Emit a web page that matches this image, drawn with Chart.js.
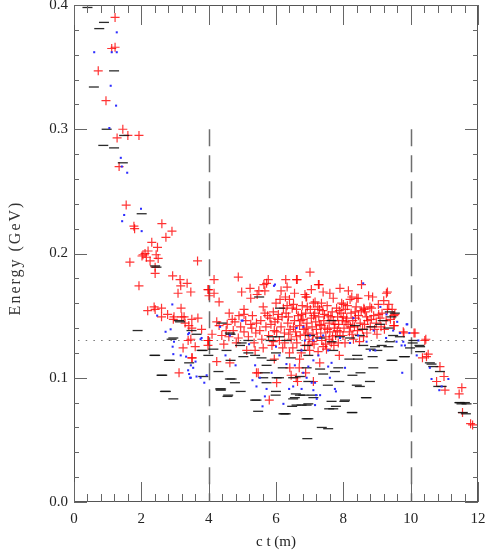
<!DOCTYPE html>
<html>
<head>
<meta charset="utf-8">
<script src="https://cdn.jsdelivr.net/npm/chart.js@4.4.1/dist/chart.umd.min.js"></script>
<style>
html,body{margin:0;padding:0;background:#fff;}
canvas{display:block;}
</style>
</head>
<body>
<canvas id="c" width="485" height="554"></canvas>
<script>
// ---- data ----
const xTickLabels = ["0","2","4","6","8","10","12"];
const yTickLabels = ["0.0","0.1","0.2","0.3","0.4"];
const xTitle = "c t (m)";
const yTitle = "Energy (GeV)";
const dashedX = [4, 10];      // vertical dashed lines
const dashedTop = 0.3;        // they start at this energy
const dottedY = 0.13;         // horizontal dotted line

const redPoints = [
[1.22,0.390],[1.12,0.365],[1.22,0.366],[0.72,0.347],[0.95,0.323],[1.45,0.300],[1.28,0.293],[1.60,0.295],[1.93,0.295],[1.34,0.270],
[1.55,0.239],[1.78,0.222],[1.80,0.220],[2.61,0.224],[2.91,0.218],[2.73,0.213],[2.31,0.209],[2.48,0.205],[2.20,0.202],[2.11,0.200],
[2.02,0.198],[2.44,0.199],[2.50,0.196],[2.26,0.194],[1.66,0.193],[3.67,0.194],[2.41,0.189],[2.41,0.184],[2.93,0.182],[3.15,0.179],
[3.17,0.174],[3.36,0.176],[1.93,0.174],[3.47,0.169],[3.09,0.168],[3.98,0.171],[2.38,0.157],[2.41,0.155],[2.19,0.154],[2.60,0.156],
[3.18,0.156],[2.78,0.151],[2.60,0.149],[2.97,0.149],[2.95,0.147],[3.20,0.149],[3.27,0.149],[3.50,0.147],[3.68,0.148],[3.30,0.144],
[3.41,0.142],[3.50,0.140],[3.79,0.139],[3.39,0.130],[3.47,0.131],[3.98,0.130],[3.98,0.126],[3.24,0.124],[3.50,0.116],[3.12,0.104],
[2.05,0.199],[2.15,0.197],
[4.16,0.179],[3.99,0.171],[4.16,0.168],[4.01,0.166],[4.31,0.161],[4.88,0.181],[4.98,0.169],[5.23,0.172],[5.25,0.164],[5.49,0.170],
[5.44,0.167],[5.67,0.170],[5.72,0.176],[5.77,0.179],[5.64,0.175],[6.33,0.173],[6.29,0.179],[6.61,0.179],[7.01,0.185],[6.12,0.163],
[5.05,0.155],[5.05,0.151],[4.61,0.152],[4.24,0.145],[4.31,0.142],[4.55,0.143],[4.78,0.145],[4.39,0.134],[4.73,0.138],[5.28,0.140],
[5.52,0.138],[5.67,0.152],[5.92,0.153],[6.07,0.151],[5.97,0.145],[6.22,0.156],[6.37,0.149],[6.52,0.159],[6.61,0.155],[6.76,0.151],
[6.91,0.165],[7.11,0.160],[3.99,0.130],[3.51,0.116],[4.24,0.113],[4.63,0.112],[4.88,0.132],[5.13,0.122],[5.38,0.122],[5.62,0.124],
[5.92,0.129],[5.47,0.104],[5.80,0.082],[6.41,0.108],[6.69,0.108],[7.11,0.097],
[6.63,0.179],[7.28,0.175],[7.90,0.172],[7.40,0.169],[6.89,0.165],[7.35,0.160],[7.70,0.164],[8.25,0.165],[8.44,0.164],[8.87,0.165],
[9.31,0.169],[9.04,0.159],[8.00,0.159],[8.61,0.156],[8.84,0.156],[9.31,0.155],[8.35,0.153],[7.26,0.175],[8.54,0.175],[9.28,0.168],
[6.86,0.167],[7.16,0.161],[7.95,0.160],[8.20,0.163],[8.40,0.164],[8.79,0.157],[8.62,0.155],[9.53,0.151],[9.09,0.148],[8.69,0.149],
[9.51,0.142],[9.80,0.136],[10.13,0.136],[10.45,0.131],[10.52,0.119],[10.35,0.116],[10.47,0.117],[10.87,0.109],[10.99,0.101],[10.77,0.097],
[11.02,0.090],[11.52,0.092],[11.44,0.087],[11.54,0.072],[11.78,0.063],[11.84,0.062],[7.88,0.118],[9.78,0.137],[9.50,0.150],[9.50,0.142],
[10.10,0.136],[10.42,0.130],
[6.05,0.147],[6.15,0.141],[6.25,0.136],[6.30,0.152],[6.35,0.144],[6.42,0.139],[6.45,0.131],[6.48,0.156],[6.55,0.146],[6.58,0.137],
[6.62,0.128],[6.66,0.150],[6.70,0.142],[6.72,0.134],[6.78,0.158],[6.80,0.147],[6.83,0.139],[6.85,0.126],[6.88,0.152],[6.92,0.144],
[6.95,0.136],[6.98,0.131],[7.02,0.155],[7.05,0.148],[7.07,0.141],[7.10,0.135],[7.13,0.127],[7.15,0.152],[7.18,0.145],[7.20,0.139],
[7.24,0.157],[7.27,0.149],[7.30,0.143],[7.33,0.136],[7.36,0.130],[7.39,0.154],[7.42,0.146],[7.45,0.140],[7.48,0.133],[7.52,0.158],
[7.55,0.150],[7.58,0.144],[7.60,0.137],[7.64,0.128],[7.67,0.153],[7.70,0.146],[7.73,0.140],[7.77,0.134],[7.80,0.156],[7.83,0.149],
[7.86,0.143],[7.90,0.137],[7.93,0.152],[7.97,0.146],[8.02,0.140],[8.06,0.155],[8.10,0.148],[8.14,0.143],[8.18,0.137],[8.23,0.152],
[8.28,0.146],[8.33,0.141],[8.38,0.157],[8.45,0.150],[8.50,0.144],[8.57,0.139],[8.65,0.153],[8.72,0.146],[8.80,0.141],[8.90,0.150],
[8.98,0.144],[9.15,0.152],[9.22,0.139],[9.40,0.147],
[4.45,0.127],[4.60,0.133],[4.82,0.128],[4.95,0.141],[5.10,0.146],[5.18,0.133],[5.30,0.150],[5.35,0.128],[5.42,0.144],[5.58,0.131],
[5.62,0.157],[5.70,0.141],[5.78,0.134],[5.82,0.148],[5.88,0.126],[5.95,0.138],[6.00,0.160],[6.10,0.130],[6.20,0.124],[6.28,0.165],
[6.40,0.120],[6.55,0.168],[6.75,0.120],[7.00,0.122],[7.25,0.121],[7.50,0.123],[7.72,0.126],[8.05,0.128],[8.30,0.131],[8.60,0.133],
[9.00,0.135],[9.20,0.162],[9.35,0.159],[6.15,0.170],[6.40,0.163],[7.05,0.171],[7.60,0.168],[8.15,0.170],[8.75,0.166],[6.70,0.115],
[7.30,0.112],[5.95,0.115],[6.60,0.100],[6.02,0.096],[6.64,0.097],[5.42,0.104],[6.45,0.102],[6.88,0.104],[3.60,0.125],[4.10,0.135],
[6.18,0.149],[6.33,0.158],[6.52,0.141],[6.61,0.133],[6.74,0.146],[6.87,0.135],[6.93,0.157],[7.08,0.129],[7.12,0.150],[7.22,0.133],
[7.29,0.155],[7.34,0.142],[7.44,0.151],[7.47,0.127],[7.53,0.139],[7.63,0.149],[7.68,0.133],[7.75,0.143],[7.82,0.138],[7.88,0.154],
[7.99,0.134],[8.08,0.145],[8.12,0.158],[8.21,0.141],[8.26,0.135],[8.36,0.148],[8.42,0.138],[8.53,0.154],[8.63,0.143],[8.70,0.136],
[8.83,0.147],[8.93,0.139],[9.05,0.151],[9.12,0.141],[9.27,0.146],[9.45,0.155],[6.02,0.137],[5.85,0.143],[5.75,0.150],[5.55,0.146],
[5.40,0.136],[5.25,0.143],[5.05,0.137],[4.90,0.150],[4.70,0.147],[4.52,0.138],[6.26,0.128],[6.50,0.124],[6.95,0.126],[7.40,0.125],
[7.85,0.128],[6.38,0.135],[6.90,0.140],[7.58,0.131],[8.00,0.149],[8.48,0.129]
];

const blackPoints = [
[0.40,0.398],[0.89,0.386],[0.75,0.381],[1.19,0.347],[0.59,0.334],[0.97,0.300],[1.49,0.295],[0.87,0.287],[1.19,0.285],[1.45,0.273],
[2.01,0.232],[2.45,0.189],[1.89,0.138],[3.12,0.146],[3.64,0.135],[2.95,0.132],[2.39,0.118],[2.82,0.114],[3.42,0.112],[2.62,0.102],
[3.84,0.101],[2.70,0.089],[2.95,0.083],[3.82,0.122],[4.36,0.090],[4.58,0.086],[4.95,0.089],[5.38,0.082],[5.47,0.073],[5.99,0.086],
[6.29,0.071],[6.48,0.077],[6.51,0.083],[6.96,0.079],[6.76,0.078],[6.96,0.067],[6.93,0.051],[7.36,0.060],[7.55,0.059],[7.70,0.075],
[8.05,0.082],[7.65,0.081],[8.27,0.072],[8.69,0.084],[8.49,0.093],[8.79,0.097],[7.09,0.086],[6.71,0.086],[7.54,0.094],[11.46,0.080],
[11.61,0.080],[11.55,0.072],
[6.96,0.118],[7.70,0.122],[8.41,0.118],[8.44,0.115],[8.18,0.115],[8.87,0.117],[8.89,0.108],[9.46,0.114],[9.80,0.117],[9.34,0.125],
[9.01,0.122],[7.85,0.108],[7.75,0.105],[7.31,0.107],[7.40,0.103],[7.88,0.097],[8.27,0.102],[8.51,0.104],[8.40,0.094],[8.67,0.084],
[8.03,0.081],[7.78,0.077],[7.58,0.075],[8.25,0.072],[6.91,0.067],[6.91,0.078],[6.81,0.086],[7.11,0.084],[6.96,0.097],
[3.79,0.122],[4.14,0.123],[4.53,0.122],[4.65,0.114],[4.68,0.099],[4.37,0.091],[4.56,0.085],[6.25,0.071],[6.56,0.084],[5.67,0.104],
[5.62,0.100],[6.09,0.100],[6.00,0.089],[6.44,0.116],[6.20,0.108],[6.71,0.101],[6.00,0.120],[5.03,0.117],[5.38,0.118],[5.87,0.133],
[6.91,0.108],
[7.65,0.146],[8.35,0.142],[8.59,0.139],[8.84,0.141],[9.09,0.143],[9.38,0.153],[9.43,0.149],[9.17,0.146],[9.34,0.140],[9.48,0.134],
[9.68,0.133],[9.38,0.129],[9.14,0.126],[8.94,0.125],[8.81,0.123],[8.59,0.126],[8.20,0.132],[8.49,0.134],[7.90,0.133],[7.65,0.129],
[7.31,0.132],[7.01,0.134],[9.83,0.117],[10.08,0.130],[10.28,0.125],[10.57,0.112],[10.67,0.109],[10.87,0.105],[10.92,0.093],[11.51,0.079],
[11.66,0.079],[11.64,0.071],
[5.50,0.165],[6.12,0.156],[4.39,0.144],[4.65,0.135],[6.10,0.133],[5.84,0.130],
[2.41,0.190],[4.63,0.136],[4.93,0.126],[2.85,0.114],[2.41,0.118],[2.60,0.102],[2.73,0.089],[4.34,0.091],[3.99,0.118],[4.29,0.105],
[4.63,0.099],[4.78,0.096],[2.90,0.131],[3.15,0.145],[3.49,0.138],[5.18,0.120],[5.57,0.116],[5.87,0.114],[5.72,0.110],[6.02,0.100],
[5.72,0.096],[6.51,0.100],[6.59,0.087],[6.61,0.078],[6.22,0.071],[5.42,0.082],[5.18,0.130],[4.98,0.128],[6.31,0.130],[6.76,0.122],
[6.91,0.126],
[9.53,0.152],[9.43,0.114],[10.06,0.128],[9.98,0.124],[10.26,0.126],[10.28,0.121],[10.62,0.111],[10.82,0.093],[11.45,0.080]
];

const bluePoints = [
[1.27,0.378],[0.60,0.362],[1.12,0.362],[1.27,0.362],[1.09,0.335],[1.25,0.319],[1.05,0.301],[1.39,0.277],[1.42,0.270],[1.58,0.265],
[1.99,0.236],[1.49,0.231],[1.43,0.226],[2.01,0.218],[2.92,0.159],[2.47,0.150],[2.87,0.139],[2.72,0.137],[3.39,0.135],[3.76,0.131],
[2.97,0.129],[2.93,0.125],[3.17,0.118],[2.95,0.119],[3.33,0.117],[3.61,0.113],[3.47,0.110],[3.39,0.106],[3.54,0.108],[3.42,0.103],
[3.47,0.100],[3.64,0.101],[3.76,0.100],[3.94,0.102],[3.87,0.096],[3.42,0.136],[3.45,0.100],
[4.98,0.146],[4.34,0.141],[4.63,0.134],[5.97,0.175],[5.38,0.110],[5.87,0.104],[5.52,0.100],[5.72,0.091],[5.67,0.085],[5.42,0.093],
[5.60,0.077],[6.22,0.079],[6.39,0.091],[6.51,0.093],[6.31,0.111],[6.56,0.110],[7.06,0.096],[7.19,0.086],[7.11,0.130],[6.76,0.122],
[6.86,0.130],[7.11,0.114],[7.26,0.118],[7.55,0.122],[7.65,0.112],[7.55,0.109],[6.96,0.109],[6.81,0.104],[6.91,0.100],[7.16,0.096],
[6.76,0.091],[7.60,0.100],[8.05,0.108],[7.75,0.091],[7.78,0.089],[7.11,0.090],[7.31,0.086],[7.21,0.083],[7.16,0.078],[8.20,0.128],
[8.69,0.129],[9.58,0.129],[9.73,0.126],[8.79,0.122],[8.95,0.122],[7.90,0.132],[7.31,0.132],[9.88,0.143],[9.68,0.136],[9.96,0.136],
[9.78,0.129],[9.83,0.126],[10.23,0.130],[10.18,0.118],[10.57,0.108],[9.75,0.104],[10.62,0.099],[11.12,0.099],[10.85,0.090],[10.92,0.093],
[8.59,0.176],[9.28,0.151],[6.61,0.140],[7.01,0.134],[7.40,0.134],[9.48,0.138],[8.44,0.134],[5.94,0.174],[5.01,0.146],[6.81,0.141],
[3.79,0.132],[9.90,0.143],[9.27,0.132],[4.50,0.118],[4.80,0.110],[5.20,0.127],[5.30,0.098],[6.10,0.118],[6.00,0.125],[8.30,0.148],
[8.90,0.138],[9.10,0.157],[9.60,0.145]
];

const toXY = arr => arr.map(p => ({x: p[0], y: p[1]}));

const frameTicks = {
  id: 'frameTicks',
  beforeDatasetsDraw(chart) {
    const {ctx, chartArea: a, scales: {x, y}} = chart;
    ctx.save();
    // dashed verticals
    ctx.strokeStyle = '#6e6e6e';
    ctx.lineWidth = 1.5;
    ctx.setLineDash([17, 9]);
    dashedX.forEach(v => {
      const px = Math.round(x.getPixelForValue(v)) + 0.5;
      ctx.beginPath();
      ctx.moveTo(px, y.getPixelForValue(dashedTop));
      ctx.lineTo(px, y.getPixelForValue(0));
      ctx.stroke();
    });
    // dotted horizontal
    ctx.strokeStyle = '#777';
    ctx.lineWidth = 1.2;
    ctx.setLineDash([1.5, 6.2]);
    const py = Math.round(y.getPixelForValue(dottedY)) + 0.5;
    ctx.beginPath();
    ctx.moveTo(a.left + 4, py);
    ctx.lineTo(a.right, py);
    ctx.stroke();
    ctx.restore();
  },
  afterDraw(chart) {
    const {ctx, chartArea: a, scales: {x, y}} = chart;
    ctx.save();
    ctx.strokeStyle = '#555';
    ctx.lineWidth = 1;
    ctx.setLineDash([]);
    ctx.strokeRect(Math.round(a.left) + 0.5, Math.round(a.top) + 0.5,
                   Math.round(a.right - a.left) - 1, Math.round(a.bottom - a.top) - 1);
    ctx.strokeStyle = '#666';
    ctx.beginPath();
    // x ticks (bottom + top): minor every 0.4, major every 2
    for (let i = 0; i <= 30; i++) {
      const v = i * 0.4;
      const major = i % 5 === 0;
      const len = major ? 20 : 8;
      const px = Math.round(x.getPixelForValue(v)) + 0.5;
      ctx.moveTo(px, a.bottom); ctx.lineTo(px, a.bottom - len);
      ctx.moveTo(px, a.top); ctx.lineTo(px, a.top + len);
    }
    // y ticks (left + right): minor every 0.02, major every 0.1
    for (let i = 0; i <= 20; i++) {
      const v = i * 0.02;
      const major = i % 5 === 0;
      const len = major ? 13 : 5;
      const py = Math.round(y.getPixelForValue(v)) + 0.5;
      ctx.moveTo(a.left, py); ctx.lineTo(a.left + len, py);
      ctx.moveTo(a.right, py); ctx.lineTo(a.right - len, py);
    }
    ctx.stroke();
    // y title: spaced serif text, rotated
    ctx.translate(16, 258);
    ctx.rotate(-Math.PI / 2);
    ctx.font = '16px "Liberation Serif", "DejaVu Serif", serif';
    if ('letterSpacing' in ctx) ctx.letterSpacing = '2px';
    ctx.fillStyle = '#333';
    ctx.textAlign = 'center';
    ctx.textBaseline = 'middle';
    ctx.fillText(yTitle, 0, 0);
    ctx.restore();
  }
};

new Chart(document.getElementById('c'), {
  type: 'scatter',
  data: {
    datasets: [
      {
        label: 'blue',
        data: toXY(bluePoints),
        pointStyle: 'rect',
        radius: 1.45,
        backgroundColor: 'rgb(45,45,255)',
        borderWidth: 0
      },
      {
        label: 'black',
        data: toXY(blackPoints),
        pointStyle: 'line',
        radius: 5,
        borderColor: 'rgba(20,20,20,0.9)',
        borderWidth: 1.3
      },
      {
        label: 'red',
        data: toXY(redPoints),
        pointStyle: 'cross',
        radius: 4.5,
        borderColor: 'rgba(255,0,0,0.8)',
        borderWidth: 1.2
      }
    ]
  },
  options: {
    responsive: false,
    animation: false,
    devicePixelRatio: 1,
    events: [],
    layout: { autoPadding: false, padding: { top: 5, right: 7, left: 0, bottom: 0 } },
    plugins: { legend: { display: false }, tooltip: { enabled: false } },
    scales: {
      x: {
        type: 'linear', min: 0, max: 12,
        grid: { display: false, drawTicks: false },
        border: { display: false },
        ticks: {
          stepSize: 2, padding: 8, color: '#222', maxRotation: 0, autoSkip: false,
          font: { family: '"Liberation Serif", "DejaVu Serif", serif', size: 15 },
          callback: v => xTickLabels[Math.round(v / 2)]
        },
        title: {
          display: true, text: xTitle, color: '#222',
          font: { family: '"Liberation Serif", "DejaVu Serif", serif', size: 15 },
          padding: { top: 0, bottom: 3 }
        },
        afterFit: s => { s.height = 52; s.paddingLeft = 0; s.paddingRight = 0; }
      },
      y: {
        type: 'linear', min: 0, max: 0.4,
        grid: { display: false, drawTicks: false },
        border: { display: false },
        ticks: {
          stepSize: 0.1, padding: 6, color: '#222', autoSkip: false,
          font: { family: '"Liberation Serif", "DejaVu Serif", serif', size: 15 },
          callback: v => yTickLabels[Math.round(v * 10)]
        },
        title: { display: false },
        afterFit: s => { s.width = 74; s.paddingTop = 0; s.paddingBottom = 0; }
      }
    }
  },
  plugins: [frameTicks]
});
</script>
</body>
</html>
